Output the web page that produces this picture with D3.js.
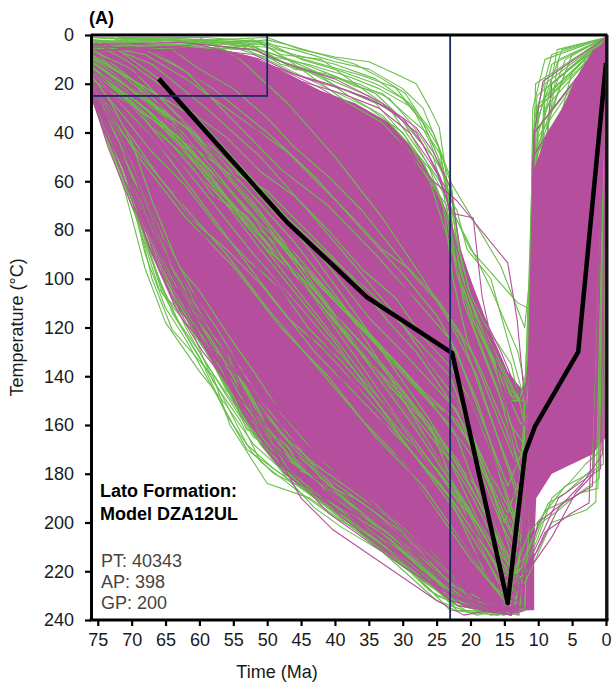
<!DOCTYPE html>
<html>
<head>
<meta charset="utf-8">
<script src="https://cdn.jsdelivr.net/npm/d3@7/dist/d3.min.js"></script>
<style>
body { margin: 0; background: #fff; }
text { font-family: "Liberation Sans", Arial, sans-serif; }
</style>
</head>
<body>
<div id="container"></div>
<script>
// axis ticks
var timeTicks = [75, 70, 65, 60, 55, 50, 45, 40, 35, 30, 25, 20, 15, 10, 5, 0];
var tempTicks = [0, 20, 40, 60, 80, 100, 120, 140, 160, 180, 200, 220, 240];

// constraint boxes [tStart, tEnd, Tmin, Tmax]
var constraintBoxes = [[76, 50, 0, 25], [23, 0, 0, 240]];

// "t,T" nodes (t in Ma, T in degC)
var bestPath = "66,18 47,77 35.3,107.5 22.7,130.5 14.5,233 11.95,171.6 10.5,160.7 4.1,130 0,11.5";

// where the good paths overlap into a solid band (burial + peak)
var bandEnvelope = "76,3 70,3 64,4 58,5 52,9 47,16 42,23 37,28 32,36 28,48 25,62 23,76 20,100 17,122 14.5,138 12.5,145 11.2,140 10.6,160 10.6,236 11.6,236 " +
    "14,238 18,236 22,233 26,226 30,218 34,210 38,200 43,190 47.5,180 51,168 54,156 57,140 60,126 63,112 65.5,96 68,76 70.5,56 73.5,36 76,22";

// same for the late cooling block
var coolingEnvelope = "11.2,150 10.6,55 9,42 6.8,32 4.5,18 1.9,6 0,3 0,165 2,172 5,176 8,180 10.3,190 10.8,225 11.4,232";

// acceptable paths, inside the band
var greenInner = [
    "76,10 68,30 60,55 52,80 45,100 38,125 30,150 23,175 17,210 13,225 11.5,170 10.5,40 0,3",
    "76,5 70,18 63,40 55,70 47,90 40,115 33,135 26,160 21,195 15,230 12,215 11,120 8,20 0,2",
    "76,15 66,45 58,75 50,105 43,130 36,150 29,170 23,190 18,220 14,236 12,200 10.8,90 0,4",
    "74,2 65,20 57,45 49,70 42,88 35,105 28,125 23,140 19,170 15,200 12.5,180 11,80 5,15 0,2",
    "76,20 69,50 62,75 55,95 48,120 41,140 34,165 27,185 22,205 17,225 12.5,236 11.5,160 10,30 0,3",
    "70,3 62,15 55,35 48,55 41,70 34,90 27,112 23,125 19,150 15,185 12,210 11,140 9,25 0,2",
    "76,8 66,25 57,50 49,80 41,105 33,128 26,150 22,165 18,195 14,220 12,190 10.8,70 0,3",
    "76,18 64,40 54,60 46,85 39,110 32,140 26,168 21,190 16,212 13,230 11.8,200 11,100 0,2",
    "60,1 54,10 47,28 40,50 33,75 27,100 23,118 19,140 16,165 13,190 11.5,150 10.5,50 0,2",
    "76,12 68,35 60,62 52,90 45,112 37,138 30,160 24,182 19,205 14.5,228 12,222 11,130 0,3",
    "76,6 69,22 61,48 53,72 45,95 37,118 29,142 23,160 18,180 14,205 12,170 10.8,60 3,10 0,1",
    "76,24 70,45 63,68 56,90 50,112 43,135 36,158 30,175 25,195 20,215 15,232 12,228 11.2,180 10,70 0,2",
    "76,2 67,12 59,30 51,50 44,72 37,95 31,115 26,135 22,150 18,175 14,200 12,200 11,90 0,2",
    "73,1 66,8 58,22 50,40 43,58 36,80 30,98 25,115 22,130 18,160 14.5,185 12.2,170 10.8,50 0,1",
    "76,14 67,32 58,60 50,85 42,108 35,130 29,150 24,170 20,188 16,210 13,225 11.5,190 10.6,80 0,2",
    "76,9 70,25 62,45 54,68 46,92 39,112 32,132 26,150 22,158 17,185 13.8,215 12,210 11,100 0,3",
    "76,3 71,10 66,20 60,34 56,42 51,56 46,66 41,80 36,96 31,108 27,124 23,136 20,150 16,178 13,205 11.6,190 10.8,70 0,2",
    "76,13 72,22 67,38 62,50 58,66 53,74 49,90 44,104 40,118 35,134 30,148 26,160 22,174 18,196 14,218 12,220 11,150 0,2",
    "76,6 70,14 65,28 61,40 55,56 50,64 45,78 40,92 36,104 32,118 28,130 24,146 21,160 17,180 14,196 12,200 10.8,80 0,1",
    "76,17 71,34 67,48 62,62 57,80 53,92 48,104 44,120 39,134 34,150 30,164 25,178 21,192 17,214 13.5,232 11.8,220 11,120 0,3",
    "76,9 69,20 64,34 58,46 53,60 48,76 44,84 40,98 35,116 30,130 26,142 22,154 19,176 15.5,200 12.8,215 11.2,160 10.5,50 0,2",
    "66,2 60,14 55,22 50,34 46,46 41,58 36,72 32,86 28,100 24,112 21,126 18,150 15,172 12.6,190 11,120 9,20 0,1",
    "76,20 71,38 66,58 61,76 56,88 51,102 47,116 42,128 38,140 33,156 29,170 24,186 20,200 16,220 13,234 11.8,210 0,2",
    "76,11 72,18 67,30 63,44 58,56 54,70 49,82 45,94 40,108 36,120 31,134 27,146 23,156 19,172 16,190 13,210 11.4,175 10.6,60 0,2",
    "76,4 68,8 62,18 57,28 52,38 47,48 42,62 37,76 33,88 29,96 25,108 22,120 19,134 15,160 12.4,180 10.9,100 10,30 0,1",
    "76,15 70,28 65,42 60,58 55,72 50,88 46,98 41,114 37,126 32,144 27,158 23,172 19,186 15,210 12.2,226 11.4,200 0,2"
];

// good paths, inside the band
var magentaInner = [
    "76,11 68,28 59,52 51,78 44,100 36,122 29,145 23,165 18,195 14,222 12,215 11,120 0,3",
    "76,4 69,15 61,38 53,62 46,82 39,104 32,126 25,146 21,170 16,205 12.6,230 11.4,170 10.5,40 0,2",
    "76,18 67,42 58,70 50,98 43,120 36,142 30,162 25,180 20,200 15,226 12,230 11,150 0,2",
    "76,7 65,22 56,45 48,66 41,86 34,110 28,128 23,145 19,165 15,195 12.4,205 11,110 8,20 0,1",
    "71,2 63,12 55,30 48,48 42,64 36,82 30,102 26,118 22,135 18,165 14,190 12,185 10.8,65 0,2",
    "76,21 68,48 60,80 53,108 46,132 40,152 34,172 28,192 23,210 17,230 12.5,236 11.2,200 10.6,90 0,3"
];

// acceptable paths on the edges of the band
var greenOuter = [
    "76,25 70.4,60 67,100 64,121 58,140 55.5,160 50,184 43.7,190 36,205 28,222 23,236 16,238 12.5,236 11.5,200 10.8,80 0,3",
    "76,24 71,52 68,85 65,108 61,128 57,146 53,168 49,178 42,192 33,212 25,232 19,238 13,234 11,180 10.5,60 0,2",
    "76,21 72,40 69,68 66,96 62,120 59,135 54,155 50,170 46,182 39,196 31,214 24,230 15,237 12,225 10.8,120 0,3",
    "76,19 72.5,35 69,60 65,92 61,114 57,130 52,150 48,164 45,178 40.3,188 35,198 29,212 24,226 18,236 12.5,232 11.2,150 0,2",
    "76,23 71.5,50 68,78 64,100 60,118 56,138 52,158 48,172 43,182 37,194 30,208 25,220 21,232 16,237 12,230 11,170 0,2",
    "76,25 73,42 70,70 66.5,92 63,112 59,128 55,148 51,164 47,180 42,190 36,202 31,210 26,220 22,236 12.8,237 11.6,210 10.6,100 0,3",
    "76,16 73,28 70,44 67,68 63,95 60,105 56,122 52,138 48,155 44,168 40,180 35,190 30,202 25,214 21,228 15,236 12,234 11.4,140 9,30 0,2",
    "76,22 70,52 66,82 62,110 58,135 55,150 53,162 48,166 44,176 39,190 33,204 27,218 23,230 18,237 12.4,234 11,190 10.6,60 0,3",
    "76,24 71,55 68,90 65,112 62,125 57,150 53,170 47,182 40,195 32,212 26,228 20,237 13,236 11.5,210 10.8,100 0,2",
    "76,22 72,46 69,75 66,100 63,118 60,130 56,148 52,165 46,176 41,186 35,200 28,216 23,232 15,238 12,232 11,170 0,2",
    "76,25 71.5,58 68.5,82 66,104 61,122 58,142 54,158 51,175 46,186 40,198 33,208 27,222 22,236 14,237 11.8,220 10.8,120 0,3",
    "76,20 72,50 68,72 65,98 62,108 59,126 55,136 52,152 49,168 44,180 38,192 31,206 25,222 19,236 12.6,236 11.2,190 0,2",
    "76,23 70.5,62 67.5,88 65.5,106 62,116 58.5,132 56,146 50,160 47,172 42,184 37,190 30,204 24,218 20,232 13,238 11.6,200 0,3",
    "76,18 72,42 69.5,64 67,84 64,104 61,118 57,134 53,144 50,162 45,174 40,184 34,196 28,210 22,228 16,236 12,232 11,150 0,2",
    "76,21 73,38 70,62 67,92 64,114 60,132 56,156 52,172 49,180 43,188 37,198 31,212 26,224 21,234 14,238 11.5,190 0,2",
    "76,24 72,52 69,76 66,94 63,110 60,124 57,140 54,152 50,166 46,178 42,182 36,196 29,214 24,230 17,238 12.4,236 11,160 0,2",
    "76,25 71,64 68,96 65,118 60,138 56,152 52,168 48,178 44,186 38,196 32,206 27,216 23,226 18,234 12.8,238 11.4,200 0,3",
    "76,19 73,36 70,58 67,80 64,98 61,112 58,126 55,140 51,152 47,166 43,176 38,186 32,198 26,214 21,228 15,236 12,236 11.2,180 0,2",
    "76,20 73.5,38 70,62 66.5,82 62,104 59,118 55.5,138 51,162 47.5,178 43,190 38,200 31,214 25,230 18,237 12.4,236 11.2,170 0,2",
    "76,23 73,44 68.5,64 66,78 64,96 60.5,112 57,128 54,146 50,164 46.5,180 42,192 36,202 30,216 24,230 16,238 12,230 11,160 0,3",
    "76,16 72,44 69,66 65,88 62,106 58.5,122 55,136 52,150 49,166 45,176 41,188 36,198 30,210 25,224 20,234 13,237 11.4,180 0,2",
    "76,19 74,30 71,50 68,70 65,94 62,102 59,120 56,130 53,148 49.5,158 46,170 42,180 38,192 33,202 27,218 22,230 15,237 11.6,200 0,2",
    "76,25 73,48 70,66 67,84 64,102 60,126 57,136 54,154 51,168 47,182 43,194 39,202 33,212 27,224 22,234 15,238 11.8,210 0,3",
    "76,21 72.5,40 70,58 66.5,76 63.5,92 60.5,108 57.5,120 54.5,134 51,150 48,160 44,174 40,186 35,196 30,206 24,222 19,234 12.8,236 11.2,190 0,2",
    "76,24 72,56 69,72 66,92 63,110 61,122 58,134 55,150 52,164 48.5,174 44.5,184 40.5,192 36,202 31,210 26,222 21,232 14,238 11.6,190 0,2",
    "76,1 66,2 58,3 50,4 45.2,9.4 36.3,16.4 31.1,21.5 26.4,38 24.5,47 23.3,68 20,88 13,110 10.8,113 10,40 6,10 0,1",
    "76,3 64,1 55,4 50,5 46,8 40,12 34,18 29,28 25.5,40 23,58 21.5,90 19,118 16,140 13,170 11.5,175 10.8,60 7.2,6 0,1",
    "76,2 62,4 52,2 48,8 42,10 37,20 32,30 28,46 25,58 22,72 20.5,88 17,100 12,150 11,130 10.5,40 0,2",
    "75,1 63,2 54,6 49,10 43,15 38,25 33,33 29,45 26,55 23.5,75 22,98 19.5,120 16,145 12.5,180 11.2,160 10.8,55 6,15 0,1",
    "76,5 65,4 56,3 51,7 46,13 41,18 35,25 30,35 26.5,52 24,65 22.5,85 21,110 18,132 14,160 11.6,170 10.8,30 9,10 0,1",
    "76,2 68,5 60,2 53,4 48,12 44,15 39,22 34,28 29.5,42 26,60 24,78 22,95 18,118 14,135 12,160 11,110 10.2,25 0,1",
    "70,1 60,3 52,5 47,10 42,20 38,28 33,36 29,48 25.5,62 23.5,70 22.2,92 20,112 17,130 13.5,150 11.4,150 10.8,45 8,12 0,1",
    "76,7 62,5 53,6 47,14 41,22 35,30 30,40 27,52 24,70 22.6,100 20.5,125 17,150 13.4,175 11.6,170 10.8,70 0,2",
    "76,3 60,2 51,3 46,6 40,11 35,14 30,22 27,30 24.8,45 23.5,62 22.4,84 20.5,106 17.5,126 13,150 11,140 10.7,50 5,8 0,1",
    "76,1 58,4 50,2 47,4 42,8 37,12 33,18 29.6,24 27.5,33 25.4,46 24,55 22.8,78 21,102 18,124 14,150 11.8,150 10.8,80 7,10 0,1",
    "72,1 59,1 50,3 45,10 39,15 34,20 30,26 27,36 24.8,50 22.6,70 21.8,96 19.5,118 16,138 12.5,160 11.4,155 10.8,40 6.5,6 0,1",
    "76,4 61,3 53,3 49,9 44,12 38,17 33.5,22 28.5,30 26,44 24,58 22.5,76 21,100 18.5,122 14.5,145 12,150 11,100 10.5,30 0,1",
    "76,6 66,2 55,5 50,7 44.5,12 39,18 34,24 31,32 28,42 25.5,50 23.8,66 20.5,84 17,104 13,130 11.5,150 10.8,60 0,2",
    "76,3 64,2 57,6 51,3 47,10 42,16 36.5,20 32,26 28.8,36 26.8,44 24.2,56 22.8,64 21.6,90 19.5,112 16,132 12.8,150 11,130 10.6,35 8,8 0,1",
    "68,1 58,2 50,1 45,6 40,9 35,11 31,16 28,20 26,30 24.6,38 23.7,55 22.6,80 21,105 18,126 14,148 11.6,150 10.8,45 0,1",
    "76,2 60,5 51,6 46,14 41,16 37,21 33,24 29,34 26.5,40 24.2,50 23,60 20,74 15.5,95 12,120 10.9,90 10.4,20 0,1"
];

// good paths on the edges of the band
var magentaOuter = [
    "76,22 71,46 67,78 63,104 59,124 55,142 51,160 47,175 43,187 38,196 32,210 27,222 22,234 14,238 11.8,205 10.8,90 0,2",
    "76,20 71,52 66,88 60,120 54,150 49,170 45,190 40.3,203 25,232 21,238 13,234 11.5,190 10.5,70 0,3",
    "76,17 72,38 68,66 64,94 60,110 55,134 51,146 46,160 41,178 37,186 32,200 27,214 23,226 17,236 12.2,236 11,160 0,2",
    "76,24 70,62 66,96 62,118 58,132 54,140 50,155 46,165 42,176 38,183 33,194 28,206 23,220 19,233 13,237 11.6,180 10.8,70 0,2",
    "76,23 71,56 67.5,86 64,108 61,120 57,138 53,156 49,170 45,180 40,190 35,198 29,210 24,224 19,234 13,236 11.6,190 0,2",
    "76,21 72,48 68,80 65,100 62,114 58,134 55,146 51,158 47,168 43,182 38,190 32,204 27,216 22,230 15,237 11.8,215 10.8,90 0,3",
    "76,24 72,44 69,70 66,92 63,108 59,120 56,134 52,146 48,162 44,172 39,182 34,194 29,206 24,220 19,232 13,237 11.4,170 0,2",
    "76,20 71.5,50 68,76 64.5,96 61.5,110 58,124 54,140 50,150 46,164 42,174 37,186 32,196 26,212 21,226 16,236 12.2,234 11,140 0,2",
    "76,22 72.5,46 69.5,68 66.5,86 63.5,104 60.5,116 57,128 53,138 49,156 45,166 41,176 36,186 31,200 25,216 20,230 14,238 11.6,200 0,3",
    "76,25 71,60 67,90 63.5,112 59.5,130 55.5,144 51.5,160 47.5,174 43,184 39,194 34,204 28,218 23,230 17,237 12.5,235 11.2,180 0,2",
    "76,18 72,40 68.5,66 65,90 62,104 58.5,118 55,132 51,144 47,158 43,170 38,178 33,190 28,204 23,218 18,232 13,236 11.5,160 0,2",
    "76,22 71,54 67,82 63,102 60,114 57,126 53,142 49,152 45,162 41,170 36,182 31,192 26,208 22,222 17,234 12.3,235 11,150 0,3",
    "76,18 72.5,42 69.5,58 65.5,84 63,98 60,116 56,134 52,156 48,176 44,186 39,196 33,208 27,222 21,234 13,237 11.5,190 0,2",
    "76,21 74,34 70.5,56 67,76 63.5,96 61,110 58,124 54.5,140 51.5,156 48,170 45,182 40,194 35,204 29,216 23,230 15,236 11.8,200 0,2",
    "76,24 73.5,46 70,70 67.5,80 64.5,100 61.5,114 57.5,132 53,150 50,160 46,174 42,184 37,196 32,206 26,220 21,232 14,238 12,226 11,150 0,3",
    "76,22 72,50 69,64 66,86 63,104 60,120 56.5,136 53.5,152 50.5,168 47,178 43,186 39,198 34,208 28,220 23,232 16,237 12.2,230 11,140 0,2",
    "76,17 73,36 70,54 67,72 64,90 61.5,104 59,116 55.5,130 52.5,146 49,162 45.5,172 41,182 36,194 31,204 25,218 20,230 14,237 11.4,170 0,2",
    "76,19 73.5,42 71,60 68,76 65.5,90 62.5,108 59.5,126 56,142 52.5,160 49,172 45,184 41,196 36,206 30,218 24,228 18,236 12.5,235 11.4,200 0,3",
    "76,23 74,40 71.5,52 68.5,68 66,86 63,96 60,112 57,124 54,138 51,154 48,164 44,178 40,188 35,200 29,212 23,226 17,236 12.4,234 11,150 0,2",
    "76,4 63,3 52,6 47,12 40,18 33,28 28,40 24.5,58 23,73 19.6,75 18.3,107 15,150 12.5,190 11.2,140 10.6,40 9.3,19 0,1",
    "76,6 64,6 54,8 48,14 42,22 36,32 30,45 25.5,60 22,68 14.5,93.5 13.1,117 12,150 11,120 10.8,50 0,2",
    "76,5 62,5 52,8 46,16 41,20 35,26 30,34 27,45 25,56 23.2,70 21.8,96 19.5,115 16,135 13,160 11.5,160 10.8,70 0,2",
    "76,7 60,4 51,10 45,19 39,24 33.5,30 29,40 26,52 23.8,62 22.5,82 20.5,104 17.5,124 14,150 12,160 10.9,110 10.6,40 0,2",
    "76,4 66,7 56,8 50,12 44,18 38,23 32,30 28,38 25.5,48 23,62 21.5,88 19,110 15.5,130 12.5,150 11.5,140 10.8,60 0,1"
];

// paths that stay hot late and cool in the last few Ma
var greenLate = [
    "76,10 64,35 52,75 40,120 30,160 22,190 15,215 12,225 8,200 3,195 1.5,191.5 0,6",
    "76,8 60,35 48,72 36,118 26,158 18,195 13.5,220 11.5,205 6,185 2.5,180 0.4,176 0,4",
    "76,12 63,42 51,85 39,128 29,165 21,198 15,222 12.2,215 9,195 5,190 1,182 0,6",
    "76,9 62,38 50,78 38,124 28,162 20,196 14.5,222 12,218 9.5,200 7.5,196 4,188 1.2,186 0,5",
    "76,13 63,44 51,88 40,126 30,166 22,196 15.5,225 12.4,222 10,206 8,190 5.5,184 3,176 0.6,170 0,4",
    "76,11 61,40 49,80 37,126 27,164 19,200 13.8,226 11.8,214 8.5,192 6,188 2,178 0,7"
];
var magentaLate = [
    "76,14 62,40 50,80 38,130 28,170 20,200 14,225 12,220 7,190 3,182 0.8,178 0,5",
    "76,16 64,48 53,90 42,130 32,168 24,198 17,224 12.8,230 10,200 6.3,192 2,185 0,8",
    "76,15 63,46 52,88 41,128 31,166 23,198 16,226 12.5,226 9,204 5,196 2.5,192 0,6",
    "76,12 62,42 50,84 39,126 29,164 21,196 14.8,228 12,222 8,206 4.5,188 1.8,180 0,5",
    "76,10 61,38 49,78 38,122 28,160 20,194 14,224 11.9,218 10.2,212 7,194 3.5,184 0.5,172 0,4"
];

var GREEN = "#6abf4b";
var MAGENTA = "#b54f9d";
var NAVY = "#1c2a66";

var Chart = {
    WIDTH: 614,
    HEIGHT: 692,
    LEFT: 91,
    RIGHT: 606,
    TOP: 35,
    BOTTOM: 620
};

function parseNodes(s) {
    return s.trim().split(/\s+/).map(function (p) {
        return p.split(",").map(Number);
    });
}

var x = d3.scaleLinear().domain([76, 0]).range([Chart.LEFT, Chart.RIGHT]);
var y = d3.scaleLinear().domain([0, 240]).range([Chart.TOP, Chart.BOTTOM]);

var line = d3.line()
        .x(function (d) { return x(d[0]); })
        .y(function (d) { return y(d[1]); });

var svg = d3.select("#container").append("svg")
        .attr("width", Chart.WIDTH)
        .attr("height", Chart.HEIGHT);

svg.append("clipPath").attr("id", "plotClip")
        .append("rect")
        .attr("x", Chart.LEFT)
        .attr("y", Chart.TOP)
        .attr("width", Chart.RIGHT - Chart.LEFT)
        .attr("height", Chart.BOTTOM - Chart.TOP);

var plot = svg.append("g").attr("clip-path", "url(#plotClip)");

function drawEnvelope(s) {
    plot.append("path")
            .attr("d", line(parseNodes(s)) + "Z")
            .style("fill", MAGENTA)
            .style("stroke", "none");
}

function drawPaths(list, colour, cls) {
    plot.selectAll("path." + cls)
            .data(list.map(parseNodes))
            .enter().append("path")
            .attr("class", cls)
            .attr("d", line)
            .style("fill", "none")
            .style("stroke", colour)
            .style("stroke-width", 1.1)
            .style("stroke-linejoin", "round");
}

drawEnvelope(bandEnvelope);
drawPaths(greenInner, GREEN, "gi");
drawPaths(magentaInner, MAGENTA, "mi");
drawPaths(greenOuter, GREEN, "go");
drawPaths(magentaOuter, MAGENTA, "mo");
// magenta paths lie on top of the green ones in the cooling block
drawEnvelope(coolingEnvelope);
drawPaths(greenLate, GREEN, "gl");
drawPaths(magentaLate, MAGENTA, "ml");

// best fit path
plot.append("path")
        .attr("d", line(parseNodes(bestPath)))
        .style("fill", "none")
        .style("stroke", "#000")
        .style("stroke-width", 4.5)
        .style("stroke-linejoin", "round");

// constraint boxes
svg.selectAll("rect.box")
        .data(constraintBoxes)
        .enter().append("rect")
        .attr("class", "box")
        .attr("x", function (d) { return x(d[0]); })
        .attr("y", function (d) { return y(d[2]); })
        .attr("width", function (d) { return x(d[1]) - x(d[0]); })
        .attr("height", function (d) { return y(d[3]) - y(d[2]); })
        .style("fill", "none")
        .style("stroke", NAVY)
        .style("stroke-width", 1.8);

// frame: top and right
svg.append("line")
        .attr("x1", Chart.LEFT).attr("x2", Chart.RIGHT + 1.5)
        .attr("y1", Chart.TOP).attr("y2", Chart.TOP)
        .style("stroke", "#000").style("stroke-width", 3);
svg.append("line")
        .attr("x1", Chart.RIGHT + 1).attr("x2", Chart.RIGHT + 1)
        .attr("y1", Chart.TOP).attr("y2", Chart.BOTTOM)
        .style("stroke", "#111").style("stroke-width", 3);

var yAxis = svg.append("g")
        .attr("transform", "translate(" + Chart.LEFT + ",0)")
        .call(d3.axisLeft(y).tickValues(tempTicks).tickSize(6).tickSizeOuter(0).tickPadding(11));
var xAxis = svg.append("g")
        .attr("transform", "translate(0," + Chart.BOTTOM + ")")
        .call(d3.axisBottom(x).tickValues(timeTicks).tickSize(6).tickSizeOuter(0).tickPadding(7));

[yAxis, xAxis].forEach(function (a) {
    a.select(".domain").style("stroke", "#000").style("stroke-width", 3);
    a.selectAll(".tick line").style("stroke", "#000").style("stroke-width", 2.2);
    a.selectAll(".tick text")
            .style("font-size", "18px")
            .style("font-family", "'Liberation Sans', Arial, sans-serif")
            .style("fill", "#1a1a1a");
});
xAxis.select(".domain").attr("d", "M" + (Chart.LEFT - 1.5) + ",0H" + (Chart.RIGHT + 2.5));

// titles
svg.append("text")
        .attr("x", 277)
        .attr("y", 678)
        .attr("text-anchor", "middle")
        .style("font-size", "18px")
        .style("fill", "#1a1a1a")
        .text("Time (Ma)");

svg.append("text")
        .attr("transform", "translate(23," + ((Chart.TOP + Chart.BOTTOM) / 2) + ") rotate(-90)")
        .attr("text-anchor", "middle")
        .style("font-size", "18px")
        .style("fill", "#1a1a1a")
        .text("Temperature (°C)");

svg.append("text")
        .attr("x", 89)
        .attr("y", 24)
        .style("font-size", "18px")
        .style("font-weight", "bold")
        .text("(A)");

var labels = [
    ["Lato Formation:", 497, true],
    ["Model DZA12UL", 520, true],
    ["PT: 40343", 567, false],
    ["AP: 398", 588, false],
    ["GP: 200", 609, false]
];
svg.selectAll("text.note")
        .data(labels)
        .enter().append("text")
        .attr("class", "note")
        .attr("x", function (d) { return d[2] ? 100 : 101; })
        .attr("y", function (d) { return d[1]; })
        .style("font-size", "18px")
        .style("font-weight", function (d) { return d[2] ? "bold" : "normal"; })
        .style("fill", function (d) { return d[2] ? "#000" : "#444"; })
        .text(function (d) { return d[0]; });
</script>
</body>
</html>
